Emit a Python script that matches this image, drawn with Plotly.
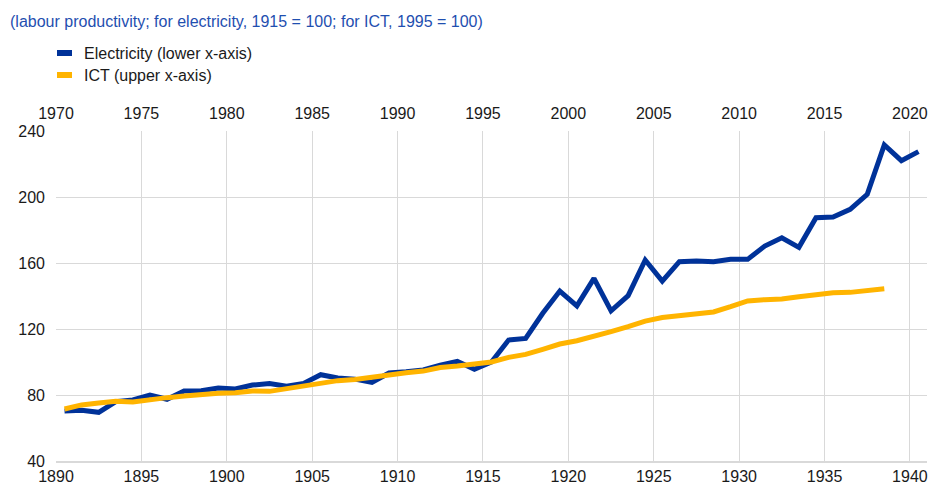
import plotly.graph_objects as go

# Electricity: labour productivity, 1915 = 100 (lower x-axis)
elec_years = list(range(1890, 1941))
elec_values = [70.3, 70.7, 69.5, 76.0, 77.0, 80.0, 77.4, 82.4, 82.6, 84.2, 83.6, 86.0, 86.9, 85.3,
               87.0, 92.3, 90.3, 89.6, 87.7, 93.3, 94.1, 95.2, 98.0, 100.4, 95.6, 100.0,
               113.3, 114.3, 129.5, 143.0, 134.0, 150.7, 131.0, 140.2, 161.8, 149.0,
               160.8, 161.2, 160.8, 162.2, 162.2, 170.3, 175.3, 169.5, 187.5, 187.9,
               192.5, 201.6, 231.5, 222.0, 227.5]

# ICT: labour productivity, 1995 = 100 (upper x-axis)
ict_years = list(range(1970, 2019))
ict_values = [71.5, 74.0, 75.2, 76.2, 75.8, 77.4, 78.4, 79.4, 80.4, 81.0, 81.4, 82.4, 82.2, 83.8,
              85.5, 87.3, 88.7, 89.4, 91.0, 92.3, 93.5, 94.5, 96.7, 97.6, 98.8, 100.0,
              102.8, 104.6, 107.7, 110.9, 112.9, 115.3, 118.4, 121.4, 124.8, 127.0,
              128.3, 129.3, 130.3, 133.5, 137.0, 137.8, 138.2, 139.6, 140.8, 142.0,
              142.2, 143.2, 144.4]

lower_ticks = list(range(1890, 1941, 5))
upper_ticks = list(range(1970, 2021, 5))
y_ticks = [40, 80, 120, 160, 200, 240]

title_text = "(labour productivity; for electricity, 1915 = 100; for ICT, 1995 = 100)"
legend_names = ["Electricity (lower x-axis)", "ICT (upper x-axis)"]

BLUE = "#003299"
YELLOW = "#FFB400"
GRID = "#d9d9d9"
FONT = "Liberation Sans, Arial, sans-serif"
TXT = "#1a1a1a"
FS = 16

fig = go.Figure()
fig.add_trace(go.Scatter(x=elec_years, y=elec_values, mode="lines", name=legend_names[0],
                         line=dict(color=BLUE, width=5), xaxis="x", yaxis="y",
                         showlegend=False))
fig.add_trace(go.Scatter(x=ict_years, y=ict_values, mode="lines", name=legend_names[1],
                         line=dict(color=YELLOW, width=5), xaxis="x2", yaxis="y",
                         showlegend=False))

# page body has an 8px margin: the figure is drawn 8px in from the window corner
OFF = 8
W, H = 946 - OFF, 488 - OFF
ml, mr, mt, mb = 56 - OFF, 19, 131 - OFF, 27
pw, ph = W - ml - mr, H - mt - mb


def px_x(px):
    # screen pixel -> paper coordinate
    return (px - OFF - ml) / pw


def px_y(py):
    return (H - mb - (py - OFF)) / ph


# custom legend (swatches + labels)
shapes = []
annotations = []
for i, (name, col) in enumerate(zip(legend_names, [BLUE, YELLOW])):
    cy = 53 + i * 22
    shapes.append(dict(type="rect", xref="paper", yref="paper",
                       x0=px_x(57), x1=px_x(72), y0=px_y(cy + 3), y1=px_y(cy - 3),
                       fillcolor=col, line=dict(width=0)))
    annotations.append(dict(text=name, xref="paper", yref="paper", x=px_x(82), y=px_y(cy),
                            xanchor="left", yanchor="middle", showarrow=False,
                            font=dict(family=FONT, size=FS, color=TXT)))

annotations.append(dict(text=title_text, xref="paper", yref="paper", x=px_x(8), y=px_y(21),
                        xanchor="left", yanchor="middle", showarrow=False,
                        font=dict(family=FONT, size=FS, color="#1f4fb0")))

fig.update_layout(
    width=W, height=H,
    margin=dict(l=ml, r=mr, t=mt, b=mb, pad=0, autoexpand=False),
    paper_bgcolor="white", plot_bgcolor="white",
    font=dict(family=FONT, size=FS, color=TXT),
    showlegend=False,
    shapes=shapes,
    annotations=annotations,
    xaxis=dict(range=[1889.5, 1940.5], tickvals=[t - 0.5 for t in lower_ticks],
               ticktext=[str(t) for t in lower_ticks], showgrid=True, gridcolor=GRID,
               gridwidth=1, zeroline=False, showline=True, linecolor=GRID, linewidth=2,
               ticks="", ticklabelstandoff=0, automargin=False,
               tickfont=dict(size=FS, color=TXT)),
    xaxis2=dict(range=[1969.5, 2020.5], tickvals=[t - 0.5 for t in upper_ticks],
                ticktext=[str(t) for t in upper_ticks], overlaying="x", side="top",
                showgrid=False, zeroline=False, showline=False, ticks="",
                ticklabelstandoff=8, automargin=False,
                tickfont=dict(size=FS, color=TXT)),
    yaxis=dict(range=[40, 240], tickvals=y_ticks, showgrid=True, gridcolor=GRID,
               gridwidth=1, zeroline=False, showline=False, ticks="",
               ticklabelstandoff=10, automargin=False,
               tickfont=dict(size=FS, color=TXT)),
)

fig.write_html("out.html")
